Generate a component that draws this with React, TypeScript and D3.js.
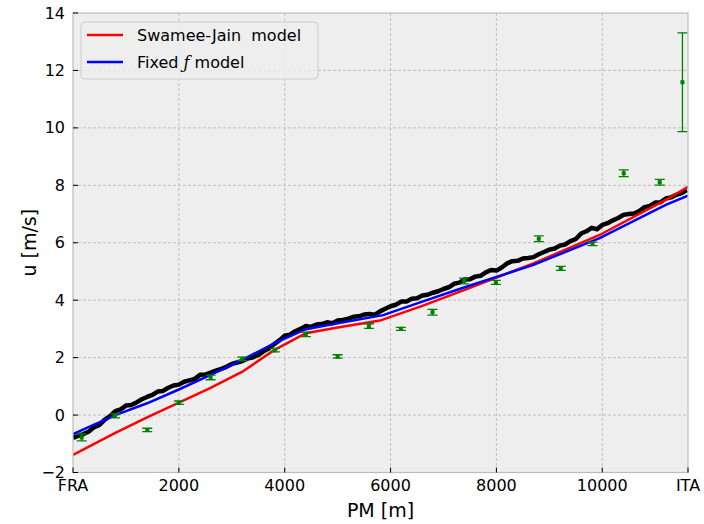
import React from "react";
import * as d3 from "d3";

const W = 704, H = 524;
const M = { left: 73, right: 688, top: 13, bottom: 472.5 };

const X_MAX = 11620;
const xTickVals = [0, 2000, 4000, 6000, 8000, 10000, 11620];
const xTickLabels = ["FRA", "2000", "4000", "6000", "8000", "10000", "ITA"];
const yTickVals = [-2, 0, 2, 4, 6, 8, 10, 12, 14];

// Measured (black) series, every 100 m
const measStep = 100;
const measValues = [
  -0.80, -0.72, -0.66, -0.57, -0.42, -0.34, -0.16, -0.04, 0.14, 0.20,
  0.33, 0.35, 0.44, 0.55, 0.63, 0.70, 0.82, 0.84, 0.95, 1.03,
  1.06, 1.16, 1.21, 1.26, 1.40, 1.41, 1.48, 1.55, 1.61, 1.68,
  1.78, 1.83, 1.88, 1.97, 2.01, 2.09, 2.22, 2.32, 2.47, 2.60,
  2.76, 2.80, 2.92, 3.00, 3.10, 3.07, 3.15, 3.17, 3.23, 3.20,
  3.29, 3.31, 3.36, 3.42, 3.44, 3.50, 3.52, 3.49, 3.61, 3.70,
  3.79, 3.84, 3.95, 3.95, 4.05, 4.07, 4.16, 4.19, 4.26, 4.31,
  4.39, 4.45, 4.57, 4.61, 4.72, 4.73, 4.82, 4.85, 4.97, 5.05,
  5.03, 5.14, 5.28, 5.36, 5.37, 5.45, 5.47, 5.50, 5.60, 5.68,
  5.76, 5.80, 5.90, 5.94, 6.06, 6.13, 6.32, 6.40, 6.52, 6.47,
  6.62, 6.68, 6.78, 6.86, 6.97, 7.00, 7.02, 7.10, 7.24, 7.28,
  7.40, 7.41, 7.54, 7.58, 7.67, 7.73, 7.84,
];

// Swamee-Jain model (red)
const sjX = [0, 800, 1400, 2000, 2600, 3200, 3800, 4400, 5000, 5800, 6600, 7400, 8700, 9950, 11200, 11620];
const sjY = [-1.39, -0.62, -0.08, 0.43, 0.95, 1.51, 2.26, 2.85, 3.05, 3.29, 3.80, 4.36, 5.28, 6.27, 7.49, 7.95];

// Fixed f model (blue)
const ffX = [0, 800, 1400, 2000, 2600, 3200, 3800, 4400, 5000, 5860, 6600, 7400, 8700, 9950, 11200, 11620];
const ffY = [-0.66, 0.0, 0.41, 0.89, 1.40, 1.92, 2.50, 2.99, 3.20, 3.48, 3.95, 4.45, 5.23, 6.16, 7.32, 7.64];

// Observations (green) with error
const obsX = [164, 793, 1403, 2002, 2600, 3198, 3815, 4400, 5000, 5590, 6195, 6793, 7391, 7990, 8801, 9216, 9815, 10406, 11086, 11515];
const obsY = [-0.78, -0.03, -0.52, 0.43, 1.31, 1.96, 2.26, 2.81, 2.04, 3.10, 3.00, 3.58, 4.67, 4.62, 6.14, 5.11, 5.96, 8.42, 8.11, 11.59];
const obsErr = [0.12, 0.07, 0.06, 0.06, 0.08, 0.06, 0.06, 0.08, 0.06, 0.08, 0.05, 0.1, 0.1, 0.07, 0.1, 0.07, 0.06, 0.12, 0.1, 1.72];

const legendItems = ["Swamee-Jain  model", "Fixed f model"];

export default function App() {
  const x = d3.scaleLinear().domain([0, X_MAX]).range([M.left, M.right]);
  const y = d3.scaleLinear().domain([-2, 14]).range([M.bottom, M.top]);

  const meas = measValues.map((v, i) => [i * measStep, v] as [number, number]);
  const sj = sjX.map((v, i) => [v, sjY[i]] as [number, number]);
  const ff = ffX.map((v, i) => [v, ffY[i]] as [number, number]);

  const line = d3.line<[number, number]>().x((d) => x(d[0])).y((d) => y(d[1]));

  const font = "DejaVu Sans, sans-serif";

  return (
    <div style={{ position: "absolute", left: 0, top: 0 }}>
      <svg width={W} height={H} style={{ display: "block", background: "#fff" }}>
        <defs>
          <clipPath id="plotclip">
            <rect x={M.left} y={M.top} width={M.right - M.left} height={M.bottom - M.top} />
          </clipPath>
        </defs>
        <rect x={M.left} y={M.top} width={M.right - M.left} height={M.bottom - M.top} fill="#eeeeee" />
        {/* grid */}
        {xTickVals.slice(1, -1).map((v) => (
          <line key={"gx" + v} x1={x(v)} x2={x(v)} y1={M.top} y2={M.bottom} stroke="#b2b2b2" strokeWidth={0.8} strokeDasharray="3,2" />
        ))}
        {yTickVals.slice(1, -1).map((v) => (
          <line key={"gy" + v} x1={M.left} x2={M.right} y1={y(v)} y2={y(v)} stroke="#b2b2b2" strokeWidth={0.8} strokeDasharray="3,2" />
        ))}
        <g clipPath="url(#plotclip)">
          <path d={line(meas) || ""} fill="none" stroke="#000" strokeWidth={4.5} strokeLinejoin="round" />
          <path d={line(sj) || ""} fill="none" stroke="#ff0000" strokeWidth={2.5} />
          <path d={line(ff) || ""} fill="none" stroke="#0000ff" strokeWidth={2.5} />
          {obsX.map((v, i) => {
            const cx = x(v);
            const y1 = y(obsY[i] + obsErr[i]);
            const y2 = y(obsY[i] - obsErr[i]);
            return (
              <g key={"o" + i} stroke="#008000" strokeWidth={1.3}>
                <line x1={cx} x2={cx} y1={y1} y2={y2} />
                <line x1={cx - 5} x2={cx + 5} y1={y1} y2={y1} />
                <line x1={cx - 5} x2={cx + 5} y1={y2} y2={y2} />
                <rect x={cx - 2} y={y(obsY[i]) - 2} width={4} height={4} fill="#008000" stroke="none" />
              </g>
            );
          })}
        </g>
        {/* frame */}
        <rect x={M.left} y={M.top} width={M.right - M.left} height={M.bottom - M.top} fill="none" stroke="#bcbcbc" strokeWidth={1.2} />
        {/* x ticks */}
        {xTickVals.map((v, i) => (
          <g key={"xt" + v}>
            <line x1={x(v)} x2={x(v)} y1={M.bottom} y2={M.bottom - 5} stroke="#000" strokeWidth={1} />
            <text x={x(v)} y={491} textAnchor="middle" fontFamily={font} fontSize={16} fill="#000">
              {xTickLabels[i]}
            </text>
          </g>
        ))}
        {/* y ticks */}
        {yTickVals.map((v) => (
          <g key={"yt" + v}>
            <line x1={M.left} x2={M.left + 5} y1={y(v)} y2={y(v)} stroke="#000" strokeWidth={1} />
            <text x={65} y={y(v)} dy="0.35em" textAnchor="end" fontFamily={font} fontSize={16} fill="#000">
              {v < 0 ? "\u2212" + Math.abs(v) : String(v)}
            </text>
          </g>
        ))}
        {/* axis labels */}
        <text x={380.5} y={517} textAnchor="middle" fontFamily={font} fontSize={19} fill="#000">PM [m]</text>
        <text transform={`translate(36,${(M.top + M.bottom) / 2}) rotate(-90)`} textAnchor="middle" fontFamily={font} fontSize={19} fill="#000">u [m/s]</text>
        {/* legend */}
        <rect x={81} y={22} width={237} height={57} rx={4} fill="#eeeeee" fillOpacity={0.8} stroke="#cccccc" strokeWidth={1} />
        <line x1={87} x2={123} y1={35} y2={35} stroke="#ff0000" strokeWidth={2.5} />
        <line x1={87} x2={123} y1={62} y2={62} stroke="#0000ff" strokeWidth={2.5} />
        <text x={137} y={35} dy="0.35em" fontFamily={font} fontSize={16} fill="#000" style={{ whiteSpace: "pre" }}>{legendItems[0]}</text>
        <text x={137} y={62} dy="0.35em" fontFamily={font} fontSize={16} fill="#000">
          Fixed <tspan fontFamily="DejaVu Serif, serif" fontStyle="italic">{"\u0192"}</tspan> model
        </text>
      </svg>
    </div>
  );
}
